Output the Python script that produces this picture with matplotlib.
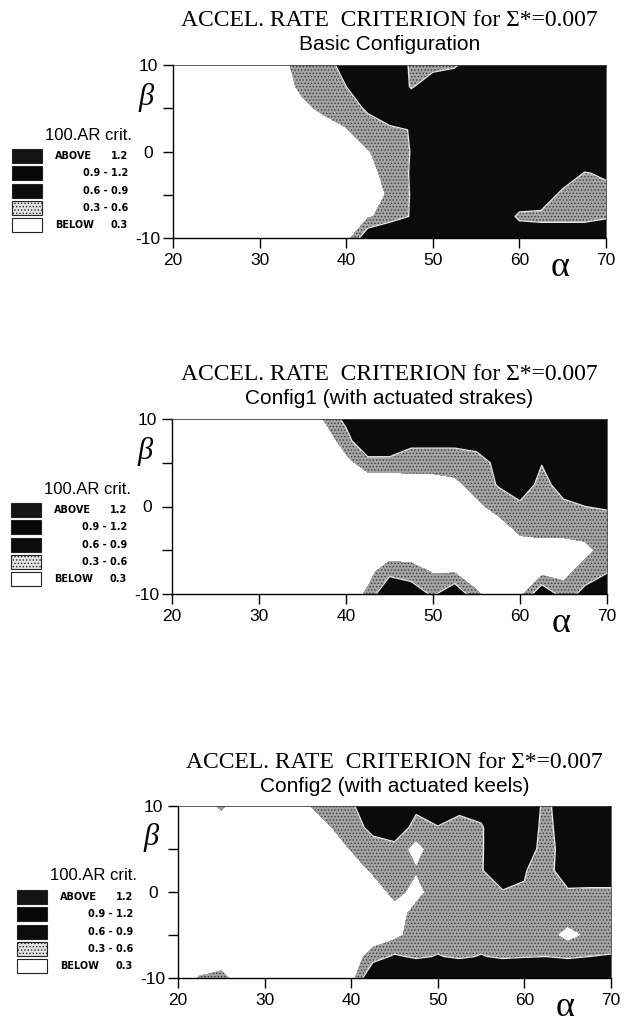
import numpy as np
import matplotlib
matplotlib.use("Agg")
import matplotlib.pyplot as plt
from matplotlib.patches import Rectangle

# grid of the AR criterion (x100)
alpha = [20, 22.5, 25, 27.5, 30, 32.5, 35, 37.5, 40, 42.5, 45,
         47.5, 50, 52.5, 55, 57.5, 60, 62.5, 65, 67.5, 70]
beta = [10, 7.5, 5, 2.5, 0, -2.5, -5, -7.5, -10]

basic = [
    [.1, .1, .1, .1, .1, .2, .45, .5, .7, 1.2, 1.5, .45, .45, .5, 1.1, 1.3, 1.3, 1.3, 1.3, 1.3, 1.3],
    [.1, .1, .1, .1, .1, .1, .4, .45, .6, 1.0, 1.2, .55, .9, 1.2, 1.3, 1.3, 1.3, 1.3, 1.3, 1.3, 1.3],
    [.1, .1, .1, .1, .1, .1, .2, .4, .45, .65, 1.0, 1.1, 1.2, 1.3, 1.3, 1.3, 1.3, 1.3, 1.3, 1.3, 1.3],
    [.1, .1, .1, .1, .1, .1, .1, .1, .28, .45, .5, .62, 1.0, 1.2, 1.3, 1.3, 1.3, 1.3, 1.2, 1.2, 1.2],
    [.1, .1, .1, .1, .1, .1, .1, .1, .1, .28, .45, .61, 1.0, 1.2, 1.3, 1.3, 1.3, 1.2, 1.1, 1.0, 1.0],
    [.1, .1, .1, .1, .1, .1, .1, .1, .1, .15, .45, .62, 1.0, 1.1, 1.2, 1.2, 1.2, 1.1, 1.0, .58, .65],
    [.1, .1, .1, .1, .1, .1, .1, .1, .1, .1, .35, .62, 1.0, 1.1, 1.1, 1.1, 1.0, 1.0, .45, .45, .5],
    [.1, .1, .1, .1, .1, .1, .1, .1, .1, .25, .45, .62, 1.0, 1.0, 1.0, 1.0, .5, .45, .45, .45, .55],
    [.1, .1, .1, .1, .1, .1, .1, .1, .15, .9, 1.0, 1.0, 1.0, 1.0, 1.0, 1.0, 1.0, 1.0, 1.0, 1.0, 1.0],
]

config1 = [
    [.1, .1, .1, .1, .1, .1, .1, .32, .7, 1.2, 1.2, 1.3, 1.3, 1.3, 1.3, 1.3, 1.3, 1.3, 1.3, 1.3, 1.3],
    [.1, .1, .1, .1, .1, .1, .1, .1, .45, 1.0, 1.0, .65, .65, .65, .65, 1.0, 1.2, 1.1, 1.2, 1.3, 1.3],
    [.1, .1, .1, .1, .1, .1, .1, .1, .2, .45, .45, .5, .5, .5, .55, .63, 1.0, .62, 1.1, 1.2, 1.2],
    [.1, .1, .1, .1, .1, .1, .1, .1, .1, .1, .1, .1, .1, .2, .45, .62, .9, .45, .8, 1.0, 1.0],
    [.1, .1, .1, .1, .1, .1, .1, .1, .1, .1, .1, .1, .1, .1, .2, .45, .5, .5, .5, .6, .62],
    [.1, .1, .1, .1, .1, .1, .1, .1, .1, .1, .1, .1, .1, .1, .1, .1, .4, .45, .45, .45, .5],
    [.1, .1, .1, .1, .1, .1, .1, .1, .1, .1, .1, .1, .1, .1, .1, .1, .1, .1, .1, .2, .45],
    [.1, .1, .1, .1, .1, .1, .1, .1, .1, .2, .5, .45, .28, .28, .1, .1, .1, .2, .2, .45, .58],
    [.1, .1, .1, .1, .1, .1, .1, .1, .1, .35, 1.0, .8, .55, .9, .35, .1, .2, .9, .45, .7, 1.0],
]

config2 = [
    [.1, .1, .35, .1, .1, .1, .28, .45, .52, 1.0, 1.1, .7, .9, .68, .8, 1.2, .9, .5, .9, 1.0, 1.2],
    [.1, .1, .1, .1, .1, .1, .1, .28, .45, .7, .9, .45, .58, .5, .55, 1.0, .9, .45, .9, 1.1, 1.2],
    [.1, .1, .1, .1, .1, .1, .1, .1, .32, .45, .45, .2, .45, .5, .55, 1.0, .8, .45, .8, 1.1, 1.2],
    [.1, .1, .1, .1, .1, .1, .1, .1, .1, .35, .45, .32, .45, .5, .58, .8, .62, .45, .85, .8, .8],
    [.1, .1, .1, .1, .1, .1, .1, .1, .1, .1, .4, .2, .45, .45, .5, .58, .58, .5, .55, .55, .55],
    [.1, .1, .1, .1, .1, .1, .1, .1, .1, .1, .15, .4, .45, .45, .45, .45, .45, .45, .45, .45, .45],
    [.1, .1, .1, .1, .1, .1, .1, .1, .1, .1, .2, .45, .45, .45, .45, .45, .45, .4, .2, .35, .45],
    [.1, .1, .1, .1, .1, .1, .1, .1, .1, .45, .65, .55, .62, .55, .62, .55, .58, .6, .55, .6, .62],
    [.1, .32, .4, .1, .1, .1, .1, .1, .15, 1.0, 1.1, 1.1, 1.1, 1.1, 1.1, 1.1, 1.1, 1.1, 1.1, 1.1, 1.1],
]

levels = [0, 0.3, 0.6, 0.9, 1.2, 2.0]
level_words = ["ABOVE", "", "", "", "BELOW"]
level_ranges = ["1.2", "0.9 - 1.2", "0.6 - 0.9", "0.3 - 0.6", "0.3"]
fill_colors = ["white", "#a4a4a4", "#0b0b0b", "#0b0b0b", "#0b0b0b"]
legend_colors = ["#141414", "#080808", "#0c0c0c", "#e4e4e4", "white"]

subtitles = ["Basic Configuration", "Config1 (with actuated strakes)",
             "Config2 (with actuated keels)"]
title = "ACCEL. RATE  CRITERION for \u03a3*=0.007"
xticks = [20, 30, 40, 50, 60, 70]
yticks = [-10, -5, 0, 5, 10]
ylabels = ["-10", "", "0", "", "10"]

W, H = 630, 1024
plt.rcParams["hatch.color"] = "#3a3a3a"
plt.rcParams["hatch.linewidth"] = 0.6
fig = plt.figure(figsize=(W / 100, H / 100), dpi=100)

# axes boxes in pixels: left, top, right, bottom
boxes = [(173, 65, 606, 238), (172, 419, 607, 594), (178, 806, 611, 978)]


def fx(x):
    return x / W


def fy(y):
    return 1 - y / H


def legend(l, t):
    fig.text(fx(l - 41), fy(t + 70), "100.AR crit.", ha="right", va="center",
             family="Liberation Sans", fontsize=12)
    for i in range(5):
        top = t + 84 + i * 17.3
        hatch = "....." if i == 3 else None
        fig.add_artist(Rectangle((fx(l - 161), fy(top + 14)), 30 / W, 14 / H,
                                 transform=fig.transFigure, facecolor=legend_colors[i],
                                 edgecolor="#222222", lw=0.8, hatch=hatch))
        yc = fy(top + 7)
        if level_words[i]:
            fig.text(fx(l - 118), yc, level_words[i], ha="left", va="center",
                     family="DejaVu Sans", fontweight="bold", fontsize=7)
        fig.text(fx(l - 45), yc, level_ranges[i], ha="right", va="center",
                 family="DejaVu Sans", fontweight="bold", fontsize=7)


for k, Z in enumerate([basic, config1, config2]):
    l, t, r, b = boxes[k]
    ax = fig.add_axes([fx(l), fy(b), (r - l) / W, (b - t) / H])
    ax.contourf(alpha, beta, Z, levels=levels, colors=fill_colors,
                hatches=[None, ".....", None, None, None])
    ax.contour(alpha, beta, Z, levels=[0.6], colors="#e8e8e8", linewidths=1.0)
    ax.set_xlim(20, 70)
    ax.set_ylim(-10, 10)
    ax.set_xticks(xticks)
    ax.set_yticks(yticks)
    ax.set_yticklabels(ylabels)
    ax.tick_params(axis="both", direction="out", length=7, width=1, labelsize=12.5)
    ax.tick_params(axis="y", pad=11)
    for lab in ax.get_yticklabels() + ax.get_xticklabels():
        lab.set_family("Liberation Sans")
    for lab in ax.get_yticklabels():
        lab.set_horizontalalignment("center")
    for s in ["top", "right"]:
        ax.spines[s].set_linewidth(0.6)
        ax.spines[s].set_color("#444444")
    ax.spines["left"].set_linewidth(1.0)
    ax.spines["bottom"].set_linewidth(1.0)

    cx = fx((l + r) / 2)
    fig.text(cx, fy(t - 44), title, ha="center", va="center",
             family="Liberation Serif", fontsize=17)
    fig.text(cx, fy(t - 20), subtitles[k], ha="center", va="center",
             family="Liberation Sans", fontsize=15)
    fig.text(fx(l + 0.894 * (r - l)), fy(b + 29), "\u03b1", ha="center", va="center",
             family="Liberation Serif", fontsize=26)
    fig.text(fx(l - 27), fy(t + 32), "\u03b2", ha="center", va="center",
             family="Liberation Serif", style="italic", fontsize=22)
    legend(l, t)

fig.savefig("out.png", dpi=100)
